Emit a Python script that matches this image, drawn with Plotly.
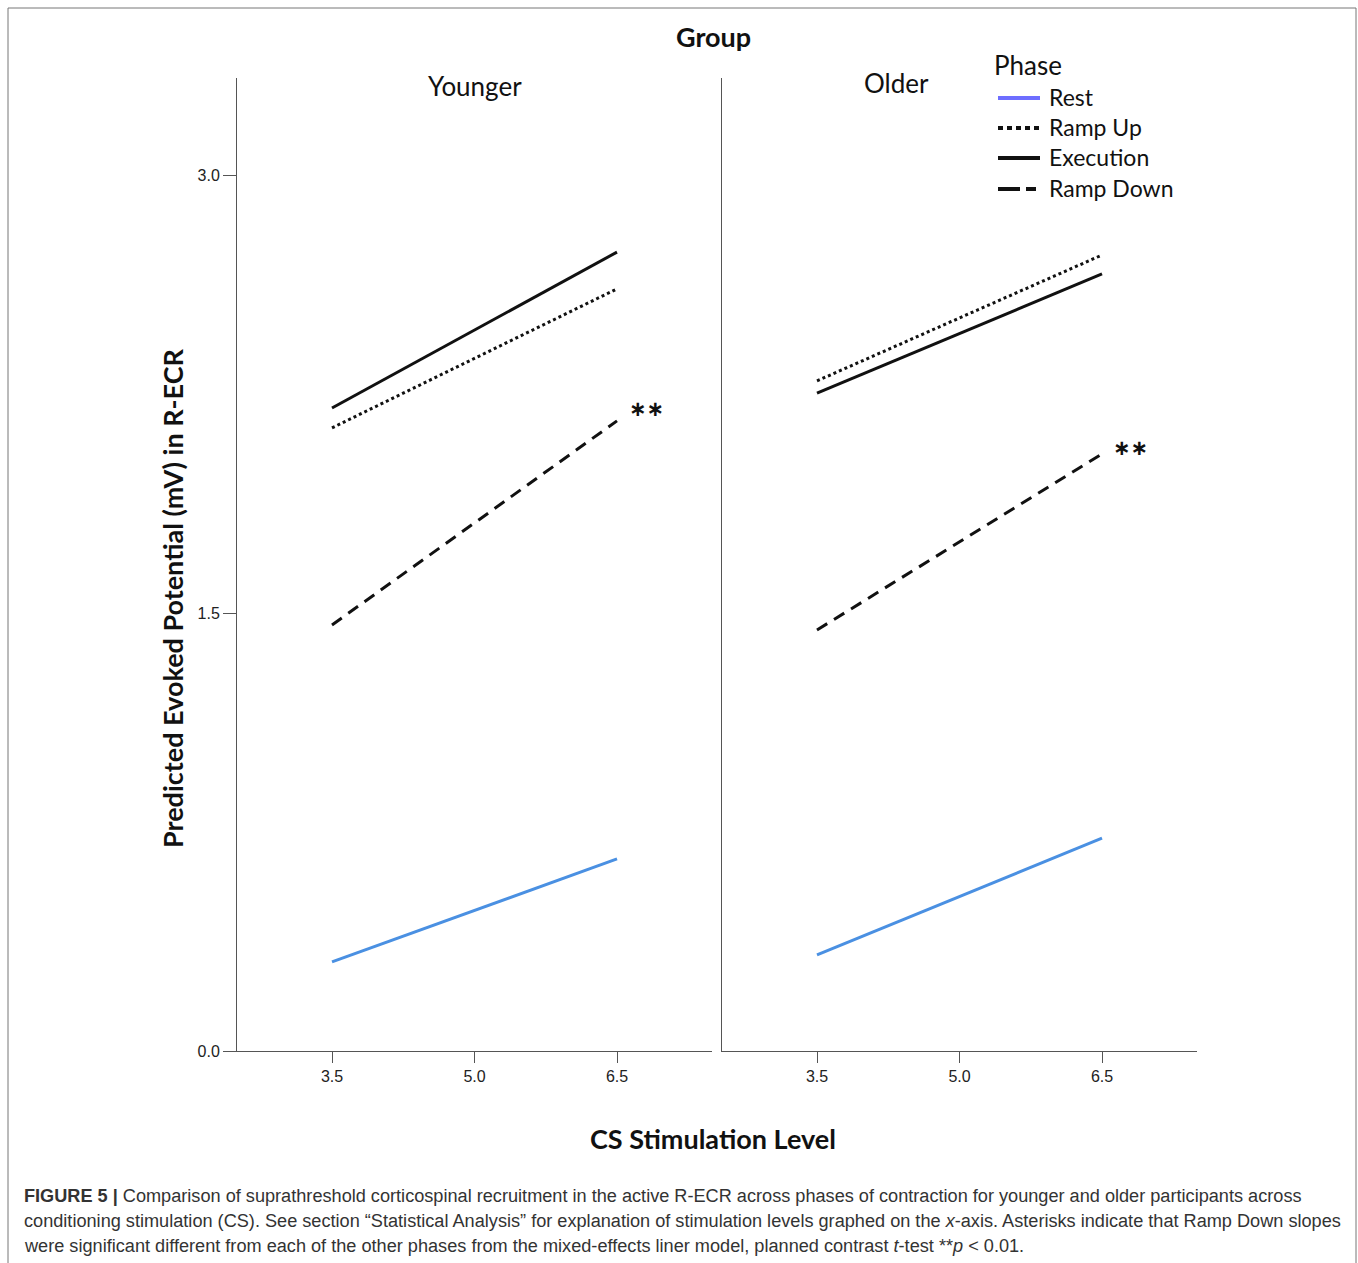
import plotly.graph_objects as go

W, H = 1358, 1263
H_REF = 1254  # vertical reference scale used for placing layout elements

cs_levels = [3.5, 6.5]
phases = ["Rest", "Ramp Up", "Execution", "Ramp Down"]

younger_rest = [0.305, 0.658]
younger_rampup = [2.134, 2.610]
younger_execution = [2.202, 2.736]
younger_rampdown = [1.459, 2.158]

older_rest = [0.329, 0.729]
older_rampup = [2.295, 2.726]
older_execution = [2.253, 2.661]
older_rampdown = [1.442, 2.045]

x_ticks = [3.5, 5.0, 6.5]
y_ticks = [0.0, 1.5, 3.0]

star_younger = (6.81, 2.199)
star_older = (6.80, 2.066)

styles = {
    "Rest": dict(color="#4a90e2", width=3, dash="solid"),
    "Ramp Up": dict(color="#111111", width=3, dash="3px,3px"),
    "Execution": dict(color="#111111", width=3, dash="solid"),
    "Ramp Down": dict(color="#111111", width=3, dash="12px,8px"),
}
legend_styles = {
    "Rest": dict(color="#6e6eff", width=4, dash="solid"),
    "Ramp Up": dict(color="#111111", width=4, dash="5px,4px"),
    "Execution": dict(color="#111111", width=4, dash="solid"),
    "Ramp Down": dict(color="#111111", width=4, dash="22px,6px,10px,6px"),
}

fig = go.Figure()

groups = [
    ("x", "y", [younger_rest, younger_rampup, younger_execution, younger_rampdown]),
    ("x2", "y2", [older_rest, older_rampup, older_execution, older_rampdown]),
]
for xa, ya, series in groups:
    for name, vals in zip(phases, series):
        fig.add_trace(go.Scatter(x=cs_levels, y=vals, mode="lines", name=name,
                                 line=styles[name], xaxis=xa, yaxis=ya,
                                 showlegend=False, hoverinfo="skip"))


def py(p):
    return 1 - p / H_REF


def px(p):
    return p / W


ymax = (1051 - 78) / 292.0
axcol = "#555555"
tickfont = dict(family="Liberation Sans, Arial", size=16, color="#222222")

xcommon = dict(range=[2.5, 7.5], tickvals=x_ticks, ticktext=[f"{v:.1f}" for v in x_ticks],
               showline=True, linecolor=axcol, linewidth=1, ticks="outside", ticklen=11,
               tickcolor=axcol, showgrid=False, zeroline=False, tickfont=tickfont, fixedrange=True)
fig.update_layout(
    width=W, height=H,
    margin=dict(l=0, r=0, t=0, b=0),
    paper_bgcolor="white", plot_bgcolor="white",
    xaxis=dict(domain=[px(237), px(712)], anchor="y", **xcommon),
    xaxis2=dict(domain=[px(722), px(1197)], anchor="y2", **xcommon),
    yaxis=dict(domain=[py(1051), py(78)], anchor="x", range=[0, ymax], tickvals=y_ticks,
               ticktext=[f"{v:.1f}" for v in y_ticks], showline=True, linecolor=axcol,
               linewidth=1, ticks="outside", ticklen=13, tickcolor=axcol, showgrid=False,
               zeroline=False, tickfont=tickfont),
    yaxis2=dict(domain=[py(1051), py(78)], anchor="x2", range=[0, ymax], showticklabels=False,
                ticks="", showline=True, linecolor=axcol, linewidth=1, showgrid=False,
                zeroline=False),
    showlegend=False,
)

# Legend (Phase), drawn manually
fig.add_annotation(text="Phase", x=px(992), y=py(65), xref="paper", yref="paper",
                   xanchor="left", yanchor="middle", showarrow=False,
                   font=dict(family="Lato", size=26, color="#111"))
legend_rows = [97, 127, 157, 188]
for name, row in zip(phases, legend_rows):
    fig.add_shape(type="line", xref="paper", yref="paper", x0=px(998), x1=px(1040),
                  y0=py(row + 1), y1=py(row + 1), line=legend_styles[name])
    fig.add_annotation(text=name, x=px(1047), y=py(row), xref="paper", yref="paper",
                       xanchor="left", yanchor="middle", showarrow=False,
                       font=dict(family="Lato", size=23, color="#111"))

title_font = dict(family="Lato", color="#111111")
anns = [
    dict(text="<b>Group</b>", x=713, y=37, size=27),
    dict(text="Younger", x=475, y=86, size=26),
    dict(text="Older", x=896, y=83, size=26),
    dict(text="<b>CS Stimulation Level</b>", x=713, y=1138, size=27),
]
for a in anns:
    fig.add_annotation(text=a["text"], x=px(a["x"]), y=py(a["y"]), xref="paper", yref="paper",
                       xanchor="center", yanchor="middle", showarrow=False,
                       font=dict(size=a["size"], **title_font))
fig.add_annotation(text="<b>Predicted Evoked Potential (mV) in R-ECR</b>", x=px(172),
                   y=py(598), xref="paper", yref="paper", textangle=-90,
                   xanchor="center", yanchor="middle", showarrow=False,
                   font=dict(size=27, **title_font))

for (sx, sy), xr, yr in [(star_younger, "x", "y"), (star_older, "x2", "y2")]:
    fig.add_annotation(text="<b>∗∗</b>", x=sx, y=sy, xref=xr, yref=yr, showarrow=False,
                       font=dict(family="DejaVu Sans", size=21, color="#111"))

caption = [
    "<b>FIGURE 5 |</b> Comparison of suprathreshold corticospinal recruitment in the active R-ECR across phases of contraction for younger and older participants across",
    "conditioning stimulation (CS). See section \u201cStatistical Analysis\u201d for explanation of stimulation levels graphed on the <i>x</i>-axis. Asterisks indicate that Ramp Down slopes",
    "were significant different from each of the other phases from the mixed-effects liner model, planned contrast <i>t</i>-test **<i>p</i> &lt; 0.01.",
]
for i, line in enumerate(caption):
    fig.add_annotation(text=line, x=px(22), y=py(1196 + 25 * i), xref="paper",
                       yref="paper", xanchor="left", yanchor="middle", showarrow=False,
                       font=dict(family="Liberation Sans, Arial", size=18.15,
                                 color="#333333"))

fig.add_shape(type="rect", xref="paper", yref="paper", x0=px(8), x1=px(1356),
              y0=-0.02, y1=py(8), line=dict(color="#777777", width=1),
              fillcolor="rgba(0,0,0,0)")

fig.write_html("out.html")
